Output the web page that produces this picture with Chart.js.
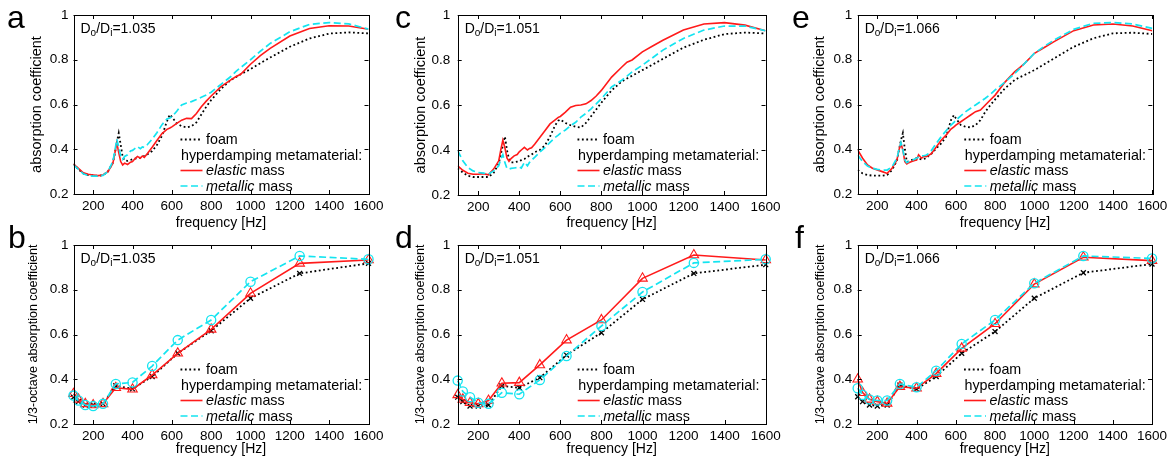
<!DOCTYPE html>
<html>
<head>
<meta charset="utf-8">
<script src="https://cdn.jsdelivr.net/npm/chart.js@4.4.1/dist/chart.umd.min.js"></script>
<style>
  html, body { margin: 0; padding: 0; background: #fff; }
  #fig { position: relative; width: 1172px; height: 464px; overflow: hidden; font-family: "Liberation Sans", Arial, sans-serif; }
  #fig canvas { position: absolute; }
  .tag { position: absolute; font-size: 32px; line-height: 1; color: #000; }
</style>
</head>
<body>
<div id="fig">
  <canvas id="pa"></canvas>
  <canvas id="pb"></canvas>
  <canvas id="pc"></canvas>
  <canvas id="pd"></canvas>
  <canvas id="pe"></canvas>
  <canvas id="pf"></canvas>
  <div class="tag" style="left:7px;top:1px">a</div>
  <div class="tag" style="left:8px;top:221px">b</div>
  <div class="tag" style="left:395px;top:1px">c</div>
  <div class="tag" style="left:395px;top:221px">d</div>
  <div class="tag" style="left:792px;top:1px">e</div>
  <div class="tag" style="left:795px;top:221px">f</div>
</div>
<script>
// ---- data ----
const freqNarrow = [100, 125, 150, 175, 200, 225, 250, 275, 300, 310, 320, 330, 340, 350, 360, 375, 390, 400, 410, 425,
  440, 450, 460, 475, 500, 525, 550, 575, 590, 600, 625, 650, 675, 700, 725, 750, 775, 800, 850, 900,
  925, 950, 1000, 1050, 1100, 1200, 1300, 1400, 1500, 1600];

// panel a  (Do/Di = 1.035)
const foamA = [0.335, 0.31, 0.292, 0.285, 0.283, 0.281, 0.284, 0.30, 0.34, 0.38, 0.43, 0.472, 0.42, 0.365, 0.35, 0.348, 0.352, 0.355, 0.358, 0.36,
  0.362, 0.365, 0.37, 0.377, 0.392, 0.42, 0.46, 0.525, 0.555, 0.545, 0.515, 0.503, 0.498, 0.503, 0.52, 0.555, 0.59, 0.62, 0.67, 0.71,
  0.722, 0.735, 0.758, 0.785, 0.81, 0.858, 0.895, 0.917, 0.922, 0.918];
const elasticA = [0.334, 0.315, 0.295, 0.288, 0.285, 0.282, 0.285, 0.30, 0.337, 0.38, 0.43, 0.385, 0.345, 0.33, 0.338, 0.332, 0.342, 0.345, 0.355, 0.368,
  0.36, 0.37, 0.364, 0.38, 0.409, 0.44, 0.47, 0.489, 0.495, 0.50, 0.516, 0.53, 0.538, 0.537, 0.56, 0.59, 0.615, 0.638, 0.68, 0.71,
  0.724, 0.735, 0.78, 0.818, 0.851, 0.906, 0.94, 0.952, 0.951, 0.936];
const metallicA = [0.33, 0.31, 0.29, 0.282, 0.28, 0.28, 0.283, 0.30, 0.345, 0.39, 0.445, 0.41, 0.37, 0.355, 0.368, 0.375, 0.392, 0.395, 0.402, 0.412,
  0.403, 0.41, 0.408, 0.42, 0.445, 0.475, 0.51, 0.535, 0.54, 0.545, 0.57, 0.598, 0.607, 0.613, 0.622, 0.632, 0.642, 0.655, 0.69, 0.725,
  0.747, 0.765, 0.80, 0.838, 0.873, 0.925, 0.958, 0.966, 0.96, 0.937];

// panel c  (Do/Di = 1.051)
const foamC = [0.318, 0.30, 0.285, 0.28, 0.28, 0.28, 0.28, 0.298, 0.34, 0.38, 0.42, 0.46, 0.40, 0.36, 0.345, 0.345, 0.348, 0.35, 0.355, 0.36,
  0.37, 0.375, 0.38, 0.39, 0.40, 0.42, 0.46, 0.51, 0.53, 0.535, 0.52, 0.51, 0.503, 0.50, 0.52, 0.55, 0.58, 0.61, 0.665, 0.705,
  0.718, 0.73, 0.755, 0.78, 0.805, 0.855, 0.89, 0.915, 0.922, 0.918];
const elasticC = [0.33, 0.31, 0.297, 0.292, 0.292, 0.295, 0.29, 0.315, 0.352, 0.40, 0.444, 0.41, 0.365, 0.35, 0.362, 0.374, 0.38, 0.392, 0.40, 0.412,
  0.40, 0.407, 0.41, 0.426, 0.456, 0.486, 0.516, 0.534, 0.545, 0.549, 0.568, 0.59, 0.598, 0.60, 0.605, 0.62, 0.64, 0.665, 0.724, 0.769,
  0.79, 0.80, 0.836, 0.862, 0.888, 0.933, 0.96, 0.966, 0.955, 0.93];
const metallicC = [0.397, 0.352, 0.322, 0.307, 0.30, 0.297, 0.293, 0.307, 0.33, 0.36, 0.379, 0.344, 0.318, 0.315, 0.318, 0.32, 0.322, 0.325, 0.32, 0.345,
  0.33, 0.345, 0.355, 0.367, 0.39, 0.41, 0.434, 0.456, 0.466, 0.474, 0.489, 0.508, 0.523, 0.546, 0.563, 0.583, 0.605, 0.628, 0.68, 0.71,
  0.728, 0.747, 0.777, 0.81, 0.844, 0.896, 0.933, 0.951, 0.951, 0.93];

// panel e  (Do/Di = 1.066)
const foamE = [0.307, 0.292, 0.285, 0.282, 0.282, 0.282, 0.285, 0.307, 0.35, 0.397, 0.44, 0.472, 0.40, 0.345, 0.345, 0.352, 0.358, 0.36, 0.358, 0.355,
  0.358, 0.36, 0.37, 0.38, 0.404, 0.426, 0.456, 0.53, 0.553, 0.538, 0.508, 0.50, 0.498, 0.508, 0.53, 0.568, 0.597, 0.623, 0.672, 0.71,
  0.722, 0.732, 0.754, 0.78, 0.806, 0.858, 0.896, 0.918, 0.921, 0.915];
const elasticE = [0.397, 0.36, 0.33, 0.315, 0.307, 0.30, 0.292, 0.315, 0.352, 0.397, 0.426, 0.397, 0.345, 0.334, 0.34, 0.345, 0.35, 0.352, 0.375, 0.36,
  0.37, 0.367, 0.372, 0.38, 0.41, 0.44, 0.463, 0.49, 0.50, 0.508, 0.523, 0.538, 0.553, 0.568, 0.575, 0.598, 0.62, 0.642, 0.70, 0.747,
  0.765, 0.784, 0.829, 0.855, 0.881, 0.93, 0.955, 0.96, 0.951, 0.93];
const metallicE = [0.374, 0.345, 0.325, 0.315, 0.31, 0.307, 0.307, 0.322, 0.36, 0.397, 0.43, 0.397, 0.352, 0.34, 0.345, 0.349, 0.356, 0.36, 0.365, 0.37,
  0.372, 0.374, 0.38, 0.394, 0.426, 0.456, 0.483, 0.508, 0.52, 0.53, 0.549, 0.568, 0.583, 0.598, 0.613, 0.628, 0.645, 0.665, 0.70, 0.739,
  0.76, 0.784, 0.829, 0.86, 0.888, 0.936, 0.963, 0.966, 0.96, 0.94];

// 1/3-octave bands
const freqThird = [100, 125, 160, 200, 250, 315, 400, 500, 630, 800, 1000, 1250, 1600];
const foamB = [0.32, 0.30, 0.285, 0.285, 0.29, 0.371, 0.357, 0.412, 0.516, 0.617, 0.762, 0.873, 0.918];
const elasticB = [0.335, 0.31, 0.29, 0.285, 0.29, 0.362, 0.355, 0.419, 0.516, 0.623, 0.784, 0.918, 0.933];
const metallicB = [0.327, 0.305, 0.285, 0.28, 0.29, 0.379, 0.386, 0.459, 0.575, 0.665, 0.836, 0.951, 0.936];
const foamD = [0.32, 0.30, 0.28, 0.28, 0.285, 0.37, 0.362, 0.407, 0.508, 0.608, 0.757, 0.873, 0.912];
const elasticD = [0.33, 0.31, 0.295, 0.29, 0.305, 0.382, 0.385, 0.464, 0.575, 0.665, 0.851, 0.955, 0.933];
const metallicD = [0.394, 0.345, 0.32, 0.295, 0.29, 0.34, 0.333, 0.397, 0.504, 0.638, 0.79, 0.92, 0.936];
const foamF = [0.322, 0.30, 0.285, 0.28, 0.285, 0.374, 0.356, 0.412, 0.516, 0.613, 0.762, 0.876, 0.915];
const elasticF = [0.40, 0.34, 0.31, 0.30, 0.292, 0.367, 0.36, 0.425, 0.538, 0.648, 0.825, 0.945, 0.93];
const metallicF = [0.36, 0.33, 0.31, 0.305, 0.305, 0.379, 0.364, 0.438, 0.558, 0.665, 0.829, 0.951, 0.94];

const xTickValues = [200, 400, 600, 800, 1000, 1200, 1400, 1600];
const yTickValues = [0.2, 0.4, 0.6, 0.8, 1];
const ratioValues = ['1.035', '1.051', '1.066'];
const legendTexts = ['foam', 'hyperdamping metamaterial:', 'elastic', 'metallic', ' mass'];

// ---- styling ----
const FONT = '"Liberation Sans", Arial, sans-serif';
const TICK_LEN = 4;
const FOAM_COLOR = '#000000';
const ELASTIC_COLOR = '#ff1a1a';
const METALLIC_COLOR = '#14e4f0';

// inward MATLAB-style ticks and a closed box
const frameTicks = {
    id: 'frameTicks',
    afterDatasetsDraw(chart) {
        const { ctx, chartArea: a, scales } = chart;
        ctx.save();
        ctx.strokeStyle = '#000';
        ctx.lineWidth = 1;
        ctx.beginPath();
        scales.x.ticks.forEach(t => {
            const px = Math.round(scales.x.getPixelForValue(t.value)) + 0.5;
            ctx.moveTo(px, a.bottom); ctx.lineTo(px, a.bottom - TICK_LEN);
            ctx.moveTo(px, a.top); ctx.lineTo(px, a.top + TICK_LEN);
        });
        scales.y.ticks.forEach(t => {
            const py = Math.round(scales.y.getPixelForValue(t.value)) + 0.5;
            ctx.moveTo(a.left, py); ctx.lineTo(a.left + TICK_LEN, py);
            ctx.moveTo(a.right, py); ctx.lineTo(a.right - TICK_LEN, py);
        });
        ctx.stroke();
        ctx.strokeRect(Math.round(a.left) + 0.5, Math.round(a.top) + 0.5,
            Math.round(a.right - a.left), Math.round(a.bottom - a.top));
        ctx.restore();
    }
};

// legend without box + Do/Di annotation
function paperText(ratio) {
    return {
        id: 'paperText',
        afterDraw(chart) {
            const { ctx, chartArea: a } = chart;
            const ds = chart.data.datasets;
            ctx.save();
            ctx.fillStyle = '#000';
            ctx.textBaseline = 'alphabetic';

            // Do/Di = ...
            let cx = a.left + 7;
            const by = a.top + 17.5;
            [['D', 0, 14], ['o', 3.5, 10], ['/D', 0, 14], ['i', 3.5, 10], ['=' + ratio, 0, 14]].forEach(([t, dy, size]) => {
                ctx.font = size + 'px ' + FONT;
                ctx.fillText(t, cx, by + dy);
                cx += ctx.measureText(t).width;
            });

            const rows = [
                { ds: 0, parts: [[legendTexts[0], 'normal']] },
                { ds: null, parts: [[legendTexts[1], 'normal']] },
                { ds: 1, parts: [[legendTexts[2], 'italic'], [legendTexts[4], 'normal']] },
                { ds: 2, parts: [[legendTexts[3], 'italic'], [legendTexts[4], 'normal']] }
            ];
            rows.forEach((row, i) => {
                const y = a.top + 129 + i * 15.5;
                let tx = a.right - 187.5;
                if (row.ds !== null) {
                    const d = ds[row.ds];
                    ctx.strokeStyle = d.borderColor;
                    ctx.lineWidth = d.borderWidth;
                    ctx.setLineDash(d.borderDash || []);
                    ctx.beginPath();
                    ctx.moveTo(a.right - 188, y - 4.5);
                    ctx.lineTo(a.right - 166, y - 4.5);
                    ctx.stroke();
                    ctx.setLineDash([]);
                    tx = a.right - 162.5;
                }
                row.parts.forEach(([txt, style]) => {
                    ctx.font = style + ' 14.3px ' + FONT;
                    ctx.fillText(txt, tx, y);
                    tx += ctx.measureText(txt).width;
                });
            });
            ctx.restore();
        }
    };
}

function toPoints(xs, ys) {
    return xs.map((x, i) => ({ x: x, y: ys[i] }));
}

function makeDatasets(xs, foam, elastic, metallic, withMarkers) {
    return [
        {
            label: 'foam', data: toPoints(xs, foam), order: 3,
            borderColor: FOAM_COLOR, borderWidth: 1.8, borderDash: [1.8, 2.6],
            pointRadius: withMarkers ? 3.5 : 0, pointStyle: 'crossRot',
            pointBorderColor: FOAM_COLOR, pointBorderWidth: 1.3, pointBackgroundColor: 'rgba(0,0,0,0)',
            clip: withMarkers ? false : undefined
        },
        {
            label: 'elastic mass', data: toPoints(xs, elastic), order: 2,
            borderColor: ELASTIC_COLOR, borderWidth: 1.6, borderDash: [],
            pointRadius: withMarkers ? 5.5 : 0, pointStyle: 'triangle',
            pointBorderColor: ELASTIC_COLOR, pointBorderWidth: 1.1, pointBackgroundColor: 'rgba(0,0,0,0)',
            clip: withMarkers ? false : undefined
        },
        {
            label: 'metallic mass', data: toPoints(xs, metallic), order: 1,
            borderColor: METALLIC_COLOR, borderWidth: 1.7, borderDash: [7, 3.5],
            pointRadius: withMarkers ? 4.6 : 0, pointStyle: 'circle',
            pointBorderColor: METALLIC_COLOR, pointBorderWidth: 1.3, pointBackgroundColor: 'rgba(0,0,0,0)',
            clip: withMarkers ? false : undefined
        }
    ];
}

function makePanel(p) {
    const canvas = document.getElementById(p.id);
    canvas.width = p.W;
    canvas.height = p.H;
    canvas.style.left = p.x0 + 'px';
    canvas.style.top = p.y0 + 'px';

    const yTitleLH = p.yTitleSize * 1.2;
    const xTitleLH = 14 * 1.2;
    const yAxisW = p.L - p.x0;
    const xAxisH = p.y0 + p.H - p.B;

    return new Chart(canvas.getContext('2d'), {
        type: 'line',
        data: { datasets: p.datasets },
        options: {
            responsive: false,
            animation: false,
            devicePixelRatio: 1,
            events: [],
            layout: {
                autoPadding: false,
                padding: { left: 0, top: p.T - p.y0, right: p.x0 + p.W - p.R, bottom: 0 }
            },
            elements: { line: { tension: 0, borderCapStyle: 'butt' } },
            scales: {
                x: {
                    type: 'linear', min: 100, max: 1600,
                    grid: { display: false, drawTicks: false },
                    border: { display: false },
                    afterBuildTicks: s => { s.ticks = xTickValues.map(v => ({ value: v })); },
                    afterFit: s => { s.height = xAxisH; s.paddingLeft = 0; s.paddingRight = 0; },
                    ticks: {
                        autoSkip: false, maxRotation: 0, minRotation: 0, padding: 4, color: '#000',
                        font: { family: FONT, size: 13.5 },
                        callback: v => String(v)
                    },
                    title: {
                        display: true, text: 'frequency [Hz]', color: '#000',
                        font: { family: FONT, size: 14 },
                        padding: { top: 0, bottom: p.y0 + p.H - p.xTitleY - xTitleLH / 2 }
                    }
                },
                y: {
                    type: 'linear', min: 0.2, max: 1,
                    grid: { display: false, drawTicks: false },
                    border: { display: false },
                    afterBuildTicks: s => { s.ticks = yTickValues.map(v => ({ value: v })); },
                    afterFit: s => { s.width = yAxisW; s.paddingTop = 0; s.paddingBottom = 0; },
                    ticks: {
                        padding: p.tickPad, color: '#000',
                        font: { family: FONT, size: 13.5 },
                        callback: v => String(v)
                    },
                    title: {
                        display: true, text: p.yTitle, color: '#000',
                        font: { family: FONT, size: p.yTitleSize },
                        padding: { top: p.yTitleX - p.x0 - yTitleLH / 2, bottom: 0 }
                    }
                }
            },
            plugins: {
                legend: { display: false },
                tooltip: { enabled: false }
            }
        },
        plugins: [frameTicks, paperText(p.ratio)]
    });
}

const topTitle = 'absorption coefficient';
const bottomTitle = '1/3-octave absorption coefficient';

const panels = [
    { id: 'pa', x0: 0, y0: 0, W: 392, H: 236, L: 73.5, R: 368.5, T: 15, B: 194, yTitleX: 36.5, xTitleY: 223, tickPad: 5,
      yTitle: topTitle, yTitleSize: 14.5, ratio: ratioValues[0],
      datasets: makeDatasets(freqNarrow, foamA, elasticA, metallicA, false) },
    { id: 'pb', x0: 0, y0: 228, W: 392, H: 236, L: 73.5, R: 368.5, T: 245, B: 424, yTitleX: 34, xTitleY: 449, tickPad: 5,
      yTitle: bottomTitle, yTitleSize: 12.5, ratio: ratioValues[0],
      datasets: makeDatasets(freqThird, foamB, elasticB, metallicB, true) },
    { id: 'pc', x0: 384, y0: 0, W: 400, H: 236, L: 457.7, R: 765.5, T: 15, B: 195, yTitleX: 420.5, xTitleY: 223, tickPad: 7.5,
      yTitle: topTitle, yTitleSize: 14.5, ratio: ratioValues[1],
      datasets: makeDatasets(freqNarrow, foamC, elasticC, metallicC, false) },
    { id: 'pd', x0: 384, y0: 228, W: 400, H: 236, L: 457.7, R: 765.7, T: 245, B: 424, yTitleX: 420.5, xTitleY: 449, tickPad: 7.5,
      yTitle: bottomTitle, yTitleSize: 12.5, ratio: ratioValues[1],
      datasets: makeDatasets(freqThird, foamD, elasticD, metallicD, true) },
    { id: 'pe', x0: 780, y0: 0, W: 392, H: 236, L: 857.7, R: 1152.3, T: 15, B: 194, yTitleX: 820, xTitleY: 223, tickPad: 5.5,
      yTitle: topTitle, yTitleSize: 14.5, ratio: ratioValues[2],
      datasets: makeDatasets(freqNarrow, foamE, elasticE, metallicE, false) },
    { id: 'pf', x0: 780, y0: 228, W: 392, H: 236, L: 857.7, R: 1152, T: 245, B: 424, yTitleX: 821, xTitleY: 449, tickPad: 5.5,
      yTitle: bottomTitle, yTitleSize: 12.5, ratio: ratioValues[2],
      datasets: makeDatasets(freqThird, foamF, elasticF, metallicF, true) }
];

panels.forEach(makePanel);
</script>
</body>
</html>
